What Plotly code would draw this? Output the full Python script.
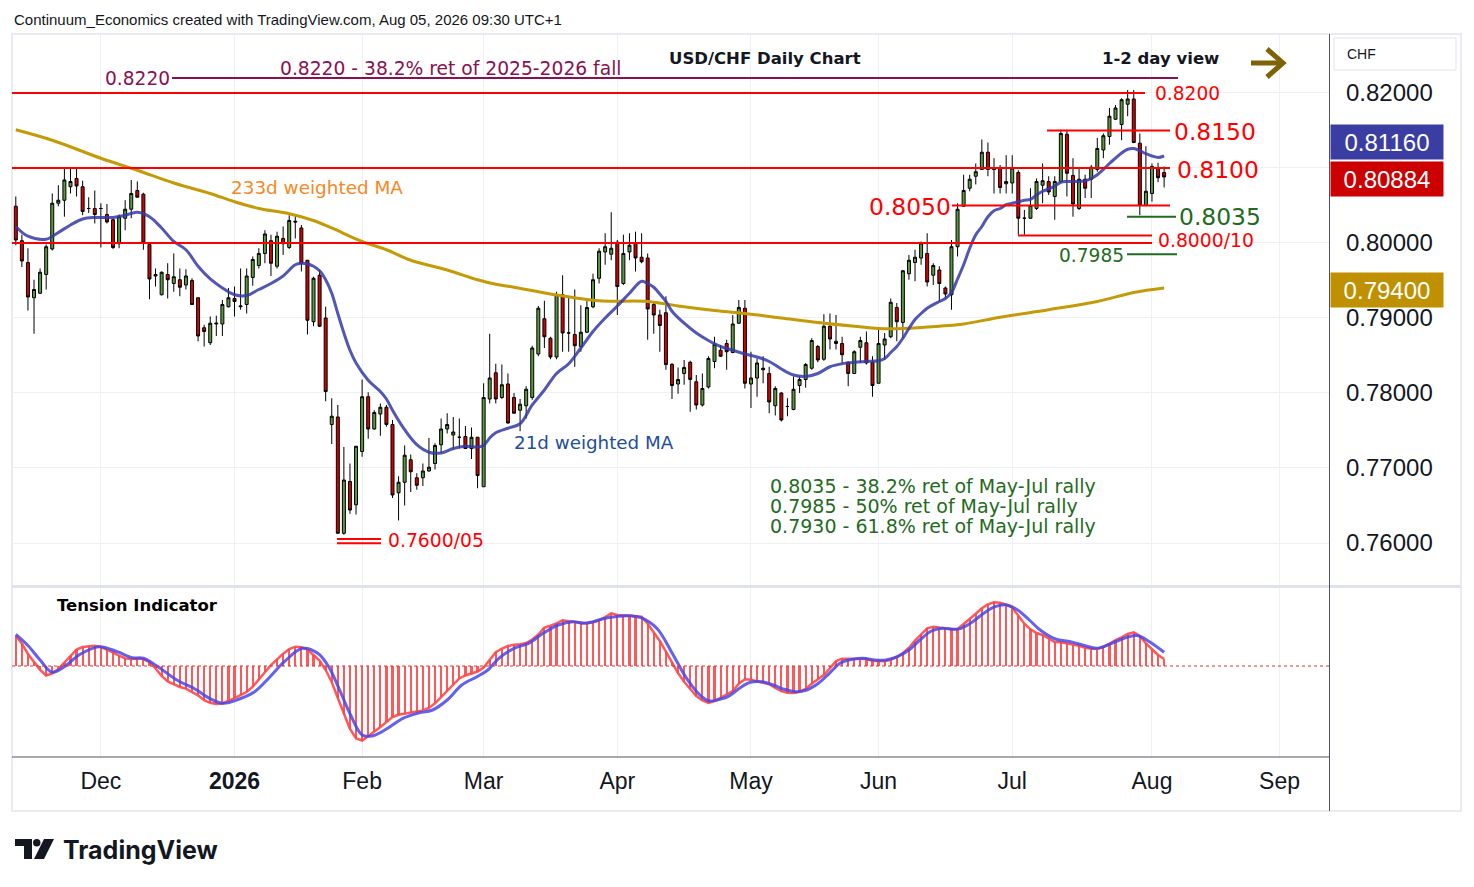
import plotly.graph_objects as go

# page is 1474x887; the browser adds an 8px body margin, so the figure is 8px smaller
PAGE_W, PAGE_H = 1474, 887
OFF = 8
W, H = PAGE_W - OFF, PAGE_H - OFF

# ---------------- data ----------------
opens = [0.8049,0.8003,0.7974,0.7927,0.7933,0.7958,0.7992,0.8053,0.8057,0.8075,
0.8086,0.8075,0.8046,0.8046,0.8046,0.8038,0.8031,0.7999,0.8033,0.8045,
0.8070,0.8065,0.7998,0.7956,0.7931,0.7958,0.7946,0.7951,0.7944,0.7950,
0.7927,0.7887,0.7867,0.7892,0.7892,0.7915,0.7926,0.7915,0.7918,0.7954,
0.7970,0.7986,0.8003,0.7969,0.8006,0.7994,0.8029,0.8020,0.7977,0.7895,
0.7957,0.7900,0.7758,0.7768,0.7613,0.7682,0.7651,0.7722,0.7795,0.7752,
0.7772,0.7781,0.7758,0.7667,0.7681,0.7711,0.7687,0.7687,0.7696,0.7706,
0.7731,0.7752,0.7744,0.7741,0.7742,0.7726,0.7741,0.7675,0.7792,0.7827,
0.7794,0.7812,0.7794,0.7777,0.7783,0.7794,0.7852,0.7899,0.7873,0.7848,
0.7931,0.7880,0.7878,0.7862,0.7881,0.7915,0.7953,0.7988,0.7985,0.8001,
0.7946,0.7988,0.8000,0.7981,0.7980,0.7918,0.7904,0.7907,0.7838,0.7812,
0.7826,0.7841,0.7815,0.7784,0.7808,0.7842,0.7857,0.7866,0.7854,0.7893,
0.7913,0.7812,0.7820,0.7833,0.7826,0.7783,0.7800,0.7782,0.7778,0.7810,
0.7818,0.7833,0.7862,0.7845,0.7889,0.7869,0.7866,0.7841,0.7826,0.7861,
0.7867,0.7841,0.7813,0.7864,0.7875,0.7914,0.7894,0.7959,0.7974,0.7980,
0.7986,0.7957,0.7964,0.7940,0.7931,0.7995,0.8049,0.8073,0.8089,0.8098,
0.8121,0.8098,0.8100,0.8079,0.8080,0.8094,0.8033,0.8033,0.8046,0.8077,
0.8082,0.8062,0.8082,0.8145,0.8090,0.8046,0.8085,0.8085,0.8098,0.8124,
0.8142,0.8165,0.8158,0.8185,0.8192,0.8133,0.8050,0.8066,0.8100,0.8094]

highs = [0.8062,0.8011,0.7993,0.7951,0.7966,0.7998,0.8066,0.8077,0.8100,0.8100,
0.8100,0.8083,0.8061,0.8070,0.8053,0.8052,0.8032,0.8038,0.8057,0.8084,
0.8082,0.8067,0.8000,0.7966,0.7962,0.7973,0.7986,0.7966,0.7965,0.7953,
0.7927,0.7891,0.7902,0.7903,0.7924,0.7940,0.7942,0.7966,0.7966,0.7982,
0.7993,0.8017,0.8011,0.8015,0.8022,0.8037,0.8037,0.8024,0.7977,0.7955,
0.7964,0.7915,0.7793,0.7784,0.7728,0.7706,0.7729,0.7818,0.7801,0.7777,
0.7786,0.7784,0.7764,0.7689,0.7730,0.7718,0.7693,0.7706,0.7740,0.7733,
0.7766,0.7773,0.7768,0.7766,0.7756,0.7754,0.7741,0.7813,0.7879,0.7839,
0.7838,0.7826,0.7800,0.7792,0.7809,0.7863,0.7916,0.7923,0.7875,0.7935,
0.7957,0.7929,0.7938,0.7917,0.7925,0.7959,0.7993,0.8013,0.8041,0.8004,
0.8011,0.8013,0.8015,0.8013,0.7986,0.7921,0.7911,0.7929,0.7840,0.7834,
0.7844,0.7843,0.7824,0.7826,0.7849,0.7875,0.7864,0.7871,0.7904,0.7924,
0.7924,0.7855,0.7846,0.7849,0.7835,0.7809,0.7801,0.7793,0.7822,0.7822,
0.7840,0.7873,0.7864,0.7905,0.7906,0.7904,0.7875,0.7842,0.7857,0.7875,
0.7882,0.7849,0.7884,0.7880,0.7926,0.7920,0.7964,0.7984,0.7991,0.8002,
0.8013,0.7973,0.7969,0.7942,0.8004,0.8053,0.8091,0.8091,0.8106,0.8138,
0.8134,0.8113,0.8104,0.8117,0.8117,0.8097,0.8044,0.8073,0.8086,0.8106,
0.8089,0.8089,0.8151,0.8151,0.8113,0.8100,0.8091,0.8104,0.8140,0.8146,
0.8180,0.8184,0.8193,0.8204,0.8204,0.8146,0.8129,0.8106,0.8107,0.8102]

lows = [0.7997,0.7968,0.7910,0.7879,0.7932,0.7938,0.7990,0.8049,0.8035,0.8066,
0.8062,0.8037,0.8040,0.8026,0.7994,0.8026,0.7992,0.7993,0.8017,0.8033,
0.8061,0.7991,0.7925,0.7942,0.7930,0.7926,0.7935,0.7929,0.7938,0.7918,
0.7869,0.7862,0.7864,0.7876,0.7876,0.7914,0.7902,0.7911,0.7906,0.7943,
0.7966,0.7973,0.7956,0.7966,0.7984,0.7992,0.8006,0.7962,0.7878,0.7889,
0.7888,0.7789,0.7732,0.7612,0.7611,0.7639,0.7638,0.7715,0.7739,0.7751,
0.7743,0.7755,0.7660,0.7630,0.7650,0.7668,0.7671,0.7676,0.7695,0.7698,
0.7720,0.7746,0.7724,0.7726,0.7726,0.7712,0.7673,0.7675,0.7786,0.7786,
0.7792,0.7759,0.7773,0.7749,0.7766,0.7791,0.7849,0.7860,0.7845,0.7845,
0.7855,0.7855,0.7835,0.7855,0.7880,0.7913,0.7946,0.7971,0.7977,0.7904,
0.7944,0.7977,0.7962,0.7973,0.7871,0.7879,0.7855,0.7831,0.7792,0.7799,
0.7811,0.7775,0.7778,0.7782,0.7806,0.7833,0.7848,0.7831,0.7853,0.7892,
0.7806,0.7780,0.7795,0.7813,0.7773,0.7770,0.7762,0.7769,0.7777,0.7800,
0.7807,0.7831,0.7841,0.7843,0.7858,0.7858,0.7840,0.7809,0.7826,0.7840,
0.7838,0.7795,0.7813,0.7844,0.7873,0.7869,0.7873,0.7951,0.7949,0.7971,
0.7942,0.7944,0.7922,0.7926,0.7911,0.7982,0.8048,0.8069,0.8078,0.8098,
0.8089,0.8066,0.8066,0.8066,0.8066,0.8011,0.8011,0.8032,0.8044,0.8053,
0.8064,0.8031,0.8080,0.8062,0.8035,0.8044,0.8060,0.8060,0.8095,0.8113,
0.8131,0.8164,0.8137,0.8169,0.8133,0.8037,0.8049,0.8055,0.8081,0.8074]

closes = [0.8004,0.7976,0.7928,0.7938,0.7961,0.7995,0.8053,0.8057,0.8084,0.8082,
0.8076,0.8042,0.8046,0.8038,0.8046,0.8028,0.7994,0.8035,0.8045,0.8066,
0.8061,0.8000,0.7952,0.7958,0.7961,0.7951,0.7955,0.7941,0.7956,0.7918,
0.7876,0.7882,0.7893,0.7893,0.7918,0.7927,0.7922,0.7916,0.7956,0.7978,
0.7986,0.8012,0.7973,0.8009,0.7999,0.8030,0.8028,0.7973,0.7897,0.7953,
0.7889,0.7802,0.7769,0.7613,0.7684,0.7644,0.7729,0.7795,0.7752,0.7774,
0.7781,0.7758,0.7664,0.7681,0.7717,0.7695,0.7677,0.7696,0.7701,0.7730,
0.7752,0.7758,0.7748,0.7741,0.7726,0.7741,0.7690,0.7794,0.7820,0.7792,
0.7811,0.7760,0.7773,0.7785,0.7805,0.7860,0.7913,0.7875,0.7848,0.7931,
0.7880,0.7880,0.7863,0.7881,0.7914,0.7951,0.7989,0.7995,0.7993,0.7942,
0.7986,0.7997,0.7980,0.7975,0.7912,0.7904,0.7890,0.7838,0.7810,0.7818,
0.7834,0.7818,0.7784,0.7806,0.7846,0.7865,0.7849,0.7855,0.7892,0.7914,
0.7813,0.7820,0.7840,0.7831,0.7788,0.7806,0.7764,0.7782,0.7805,0.7818,
0.7838,0.7870,0.7844,0.7889,0.7872,0.7866,0.7851,0.7826,0.7855,0.7870,
0.7840,0.7810,0.7866,0.7872,0.7921,0.7895,0.7963,0.7977,0.7981,0.8000,
0.7948,0.7970,0.7946,0.7932,0.7995,0.8045,0.8070,0.8085,0.8095,0.8121,
0.8098,0.8098,0.8074,0.8082,0.8100,0.8033,0.8033,0.8050,0.8082,0.8083,
0.8068,0.8082,0.8146,0.8093,0.8052,0.8085,0.8073,0.8101,0.8126,0.8143,
0.8169,0.8180,0.8191,0.8192,0.8134,0.8050,0.8069,0.8102,0.8087,0.8088]

# 21d weighted MA (bar index, value)
ma21_idx = [0,2,5,7,9,11,13,16,18,20,22,24,26,28,30,32,34,36,38,40,42,44,46,47,48,49,50,51,52,53,54,55,56,58,60,61,62,64,66,68,70,72,74,76,77,78,79,81,83,85,87,89,91,93,95,97,99,101,103,104,105,106,107,108,110,112,114,116,118,120,122,124,126,128,130,132,134,136,138,140,142,143,144,145,146,147,148,149,150,152,153,154,155,156,157,158,159,160,161,162,163,164,165,166,167,168,169,170,171,172,173,175,176,177,178,179,180,181,182,183,184,185,186,187,188,189]
ma21_val = [0.8022,0.8009,0.8005,0.8014,0.8024,0.8032,0.8034,0.8034,0.8037,0.8041,0.8035,0.8020,0.8002,0.7991,0.7969,0.7952,0.7940,0.7931,0.7930,0.7938,0.7946,0.7956,0.7971,0.7973,0.7972,0.7969,0.7963,0.7951,0.7933,0.7906,0.7880,0.7857,0.7840,0.7817,0.7802,0.7792,0.7777,0.7751,0.7731,0.7721,0.7720,0.7726,0.7729,0.7728,0.7730,0.7740,0.7747,0.7753,0.7759,0.7784,0.7804,0.7826,0.7839,0.7860,0.7882,0.7900,0.7916,0.7933,0.7949,0.7946,0.7941,0.7932,0.7922,0.7909,0.7893,0.7880,0.7870,0.7862,0.7857,0.7852,0.7848,0.7842,0.7832,0.7824,0.7822,0.7826,0.7835,0.7839,0.7841,0.7842,0.7843,0.7846,0.7854,0.7862,0.7873,0.7886,0.7898,0.7906,0.7913,0.7922,0.7926,0.7934,0.7952,0.7971,0.7993,0.8011,0.8022,0.8035,0.8043,0.8046,0.8051,0.8053,0.8055,0.8057,0.8058,0.8064,0.8069,0.8072,0.8076,0.8081,0.8082,0.8082,0.8083,0.8086,0.8091,0.8098,0.8106,0.8113,0.8120,0.8125,0.8126,0.8123,0.8119,0.8116,0.8114,0.8116]

# 233d weighted MA (bar index, value)
ma233_idx = [0,6,14,20,26,32,36,40,45,49,52,57,61,65,71,76,79,82,88,96,104,109,115,120,126,132,138,142,146,152,156,162,170,178,184,189]
ma233_val = [0.8151,0.8137,0.8113,0.8097,0.8080,0.8066,0.8055,0.8046,0.8039,0.8030,0.8020,0.8002,0.7991,0.7977,0.7964,0.7951,0.7945,0.7941,0.7932,0.7923,0.7922,0.7916,0.7910,0.7906,0.7900,0.7894,0.7889,0.7886,0.7886,0.7889,0.7892,0.7901,0.7911,0.7922,0.7934,0.7940]

# Tension indicator histogram (one value per bar)
tension_hist = [30,22.5,12,3.7,-3.8,-9.5,-7.5,-3,3.5,10.3,
16.5,19,20,20.3,19,16.6,13.7,10.4,7.6,7,
7.6,6.9,3.9,-2.4,-10,-15.4,-18.4,-21,-22.6,-25.8,
-29.4,-34.2,-36.8,-38,-37.5,-35,-32.2,-29,-26,-20.7,
-14,-6.3,0.8,6.7,12.3,16.8,19.3,18.8,16.5,11,
5.4,-4,-16,-32,-48.5,-63,-72.4,-74.5,-70.2,-65.8,
-61,-56,-51,-48.8,-47.8,-46.6,-45.5,-44.4,-42,-37.3,
-31.2,-25,-18,-12.5,-9.5,-7.6,-5.5,-1.5,6.2,13.7,
17.5,20,21.3,21.7,23,26.5,31.5,38.3,40.4,42.7,
45.8,45.2,44,43.2,43,43.8,45.7,49,52.7,51,
50.3,50.3,49.8,49.3,42.3,33.3,25,14.3,3.7,-7,
-15.7,-23,-30,-34.3,-37,-35,-31.7,-28,-25,-17.7,
-13.3,-13.7,-15.3,-16.7,-18.3,-22,-25,-26.7,-27,-25.7,
-23,-17.7,-13,-9,-2.3,5,7.3,7.3,6.7,7,
7,5.3,4.7,4.7,6.3,9,13,18.3,25.3,32,
37.7,39.3,38.3,37.3,36.7,37,41.7,47,52.3,57.7,
61.7,63.7,63.3,61.3,58.3,50.3,42.3,36.7,33,31,
27.7,24,23.7,22.7,21.3,20.3,18.3,17.3,17.3,19,
22.3,26,28.7,32,33.7,30,22.7,17,11,7]

# Tension indicator signal line (bar index, value)
signal_idx = [0,2,4,6,8,10.6,13.7,16.7,19.2,21,23.4,26.5,29.5,31.9,34.1,36.8,39.3,41.7,44.2,47.2,49.7,51.5,53.3,55.1,57,58.8,61.2,63.7,66.1,68.6,71,73.4,75.9,77.7,79.5,82,84.4,86.8,89.3,91.7,93.7,97.4,101.1,102.9,105.5,107.9,110.4,112.9,114.1,115.4,117.2,119.1,120.9,122.8,124.7,126.5,128.4,130.2,132.1,133.9,135.8,137.7,139.5,141.4,143.2,145.1,147,148.8,150.7,152.5,154.4,155.6,157.5,159.3,161.2,163.1,164.9,166.8,168.6,171.1,173.6,176,177.9,180.4,182.9,184.7,186.6,189]
signal_val = [31.7,20.5,6,-6.3,-0.7,11.7,19.3,14.3,8.3,7.7,-0.7,-14,-23,-32.3,-37.3,-33,-25.7,-11.7,4.3,17.7,12.7,-0.7,-24,-49,-69,-69.7,-62.3,-52.3,-47.3,-44,-34,-19,-10.7,-4,7.7,17.7,22.7,32.7,41,44.3,42.7,48.3,50.3,48.3,37.7,14.3,-12.3,-30.7,-35,-34,-30.7,-22.3,-16.3,-15.7,-19,-23.3,-25.7,-24,-17.3,-7.3,3.3,6.7,7.7,6,6,9.3,16,26,35,37.7,36.7,37.7,44.3,52.7,59.3,61,56,46,36,27,24.3,20.3,17.7,22.7,28.7,30.3,24.3,13.7]

month_idx = [14, 36, 57, 77, 99, 121, 142, 164, 187, 208]
month_lbl = ["Dec", "<b>2026</b>", "Feb", "Mar", "Apr", "May", "Jun", "Jul", "Aug", "Sep"]

price_ticks = [0.76, 0.77, 0.78, 0.79, 0.80, 0.81, 0.82]
# the 0.81000 label sits under the live price labels in the reference
price_tick_lbl = ["0.76000", "0.77000", "0.78000", "0.79000", "0.80000", "", "0.82000"]

last_close = 0.80884
last_ma21 = 0.81160
last_ma233 = 0.79400

bars = list(range(len(closes)))

# ---------------- helpers (page pixel -> figure paper) ----------------
def px(x):
    return (x - OFF) / W

def py(y):
    return 1 - (y - OFF) / H

RED = "#ff0000"
GREEN_T = "#1f6b22"
MAROON = "#8a1150"
FONT_A = "DejaVu Sans"
FONT_AX = "Liberation Sans"
INK = "#131722"

fig = go.Figure()

# moving averages (behind candles)
fig.add_trace(go.Scatter(x=ma233_idx, y=ma233_val, mode="lines",
                         line=dict(color="#c49a06", width=3, shape="spline"),
                         hoverinfo="skip", showlegend=False, xaxis="x", yaxis="y"))
fig.add_trace(go.Scatter(x=ma21_idx, y=ma21_val, mode="lines",
                         line=dict(color="rgba(52,56,168,0.85)", width=3, shape="spline"),
                         hoverinfo="skip", showlegend=False, xaxis="x", yaxis="y"))

fig.add_trace(go.Candlestick(
    x=bars, open=opens, high=highs, low=lows, close=closes,
    increasing=dict(fillcolor="#5a9a3e", line=dict(color="#000000", width=1)),
    decreasing=dict(fillcolor="#d30000", line=dict(color="#000000", width=1)),
    whiskerwidth=0, hoverinfo="skip", showlegend=False, xaxis="x", yaxis="y"))

# tension indicator
fig.add_trace(go.Bar(x=bars, y=tension_hist, width=0.36,
                     marker=dict(color="rgba(255,70,70,0.9)", line=dict(width=0)),
                     hoverinfo="skip", showlegend=False, xaxis="x2", yaxis="y2"))
fig.add_trace(go.Scatter(x=bars, y=tension_hist, mode="lines",
                         line=dict(color="rgba(255,70,70,0.9)", width=2.5),
                         hoverinfo="skip", showlegend=False, xaxis="x2", yaxis="y2"))
fig.add_trace(go.Scatter(x=signal_idx, y=signal_val, mode="lines",
                         line=dict(color="rgba(70,70,235,0.85)", width=3, shape="spline"),
                         hoverinfo="skip", showlegend=False, xaxis="x2", yaxis="y2"))

x_lo, x_hi = -0.625, 216.3
grid = "#edf0f5"

fig.update_layout(
    width=W, height=H, margin=dict(l=0, r=0, t=0, b=0),
    paper_bgcolor="white", plot_bgcolor="white", showlegend=False,
    bargap=0,
    xaxis=dict(domain=[px(12), px(1330)], range=[x_lo, x_hi], anchor="y",
               tickvals=month_idx, showticklabels=False, showgrid=True, gridcolor=grid,
               zeroline=False, showline=False, ticks="", rangeslider=dict(visible=False)),
    yaxis=dict(domain=[py(585), py(35)], range=[0.7544, 0.82773], side="right", anchor="x",
               tickvals=price_ticks, ticktext=price_tick_lbl, showgrid=True, gridcolor=grid,
               zeroline=False, showline=False, ticks="", ticklabelstandoff=15,
               tickfont=dict(family=FONT_AX, size=24, color=INK)),
    xaxis2=dict(domain=[px(12), px(1330)], range=[x_lo, x_hi], anchor="y2", matches="x",
                tickvals=month_idx, ticktext=month_lbl, showgrid=True, gridcolor=grid,
                zeroline=False, showline=False, ticks="", ticklabelstandoff=8,
                tickfont=dict(family=FONT_AX, size=23, color=INK)),
    yaxis2=dict(domain=[py(757), py(588)], range=[-91, 78], anchor="x2",
                showticklabels=False, showgrid=False, zeroline=False, showline=False),
)

shapes = []
# frame and separators
shapes.append(dict(type="rect", xref="paper", yref="paper", x0=px(12), x1=px(1461), y0=py(811), y1=py(34),
                   line=dict(color="#e9ebf0", width=2), layer="below"))
shapes.append(dict(type="line", xref="paper", yref="paper", x0=px(12), x1=px(1461), y0=py(586.5), y1=py(586.5),
                   line=dict(color="#e0e3eb", width=3)))
shapes.append(dict(type="line", xref="paper", yref="paper", x0=px(12), x1=px(1330), y0=py(757), y1=py(757),
                   line=dict(color="#50535e", width=1)))
shapes.append(dict(type="line", xref="paper", yref="paper", x0=px(1329.5), x1=px(1329.5), y0=py(811), y1=py(34),
                   line=dict(color="#50535e", width=1)))
# zero line of the indicator
shapes.append(dict(type="line", xref="paper", yref="y2", x0=px(12), x1=px(1330), y0=0, y1=0,
                   line=dict(color="#e03030", width=1, dash="dot")))

# level lines (price levels)
def level(y, xa, xb, color, width=2):
    shapes.append(dict(type="line", xref="paper", yref="y", x0=px(xa), x1=px(xb), y0=y, y1=y,
                       line=dict(color=color, width=width)))

level(0.8220, 172, 1178, MAROON)
level(0.8200, 12, 1145, RED)
level(0.8150, 1047, 1170, RED)
level(0.8100, 12, 1170, RED)
level(0.8050, 952, 1170, RED)
level(0.8035, 1127, 1176, GREEN_T)
level(0.8010, 1018, 1152, RED)
level(0.8000, 12, 1152, RED)
level(0.7985, 1127, 1177, GREEN_T)
level(0.76053, 337, 381, RED)
level(0.75996, 337, 381, RED)

# arrow (1-2 day view)
ac = "#7f6206"
shapes.append(dict(type="line", xref="paper", yref="paper", x0=px(1251), x1=px(1282), y0=py(63), y1=py(63),
                   line=dict(color=ac, width=5)))
shapes.append(dict(type="path", xref="paper", yref="paper",
                   path=f"M {px(1267)} {py(49)} L {px(1283)} {py(63)} L {px(1267)} {py(77)}",
                   line=dict(color=ac, width=5)))
# CHF box
shapes.append(dict(type="rect", xref="paper", yref="paper", x0=px(1334), x1=px(1456), y0=py(70), y1=py(38),
                   line=dict(color="#e0e3eb", width=1)))
# TradingView logo mark
shapes.append(dict(type="path", xref="paper", yref="paper", fillcolor=INK, line=dict(width=0),
                   path=f"M {px(15)} {py(839)} L {px(32)} {py(839)} L {px(32)} {py(859)} L {px(24)} {py(859)} "
                        f"L {px(24)} {py(846)} L {px(15)} {py(846)} Z"))
shapes.append(dict(type="circle", xref="paper", yref="paper", fillcolor=INK, line=dict(width=0),
                   x0=px(33), x1=px(40.5), y0=py(846.5), y1=py(839)))
shapes.append(dict(type="path", xref="paper", yref="paper", fillcolor=INK, line=dict(width=0),
                   path=f"M {px(44)} {py(839)} L {px(54)} {py(839)} L {px(44)} {py(859)} L {px(34)} {py(859)} Z"))

fig.update_layout(shapes=shapes)

ann = []
def text(t, x, y, size, color, xanchor="left", family=FONT_A):
    ann.append(dict(text=t, x=px(x), y=py(y), xref="paper", yref="paper", xanchor=xanchor,
                    yanchor="middle", showarrow=False,
                    font=dict(family=family, size=size, color=color)))

text("Continuum_Economics created with TradingView.com, Aug 05, 2026 09:30 UTC+1", 12, 19, 15, INK, family=FONT_AX)
text("<b>USD/CHF Daily Chart</b>", 765, 59, 16.5, INK, xanchor="center")
text("<b>1-2 day view</b>", 1160, 59, 16.5, INK, xanchor="center")
text("0.8220", 103, 78, 18.6, MAROON)
text("0.8220 - 38.2% ret of 2025-2026 fall", 278, 68, 18.7, MAROON)
text("0.8200", 1153, 94, 18.6, RED)
text("0.8150", 1172, 132, 23.4, RED)
text("0.8100", 1175, 170, 23.4, RED)
text("0.8050", 953, 207, 23.4, RED, xanchor="right")
text("0.8035", 1177, 217, 23.4, GREEN_T)
text("0.8000/10", 1156, 240, 18.8, RED)
text("0.7985", 1126, 255, 18.6, GREEN_T, xanchor="right")
text("233d weighted MA", 229, 187, 18.4, "#f5891f")
text("21d weighted MA", 512, 442, 18.3, "#1e4e9d")
text("0.7600/05", 386, 540, 18.8, RED)
text("0.8035 - 38.2% ret of May-Jul rally", 768, 486, 19, GREEN_T)
text("0.7985 - 50% ret of May-Jul rally", 768, 506, 19, GREEN_T)
text("0.7930 - 61.8% ret of May-Jul rally", 768, 526, 19, GREEN_T)
text("<b>Tension Indicator</b>", 55, 605, 16.5, "#000000")
text("CHF", 1345, 54, 14, INK, family=FONT_AX)
text("<b>TradingView</b>", 61, 850, 25, INK, family="Inter")

# price labels on the axis
def axis_label(val, yc, bg):
    ann.append(dict(text=f"{val:.5f}", x=px(1330), y=py(yc), xref="paper", yref="paper",
                    xanchor="left", yanchor="middle", showarrow=False, bgcolor=bg,
                    width=112, height=34, align="center", borderpad=0,
                    font=dict(family=FONT_AX, size=24, color="white")))

axis_label(last_ma21, 142.5, "#3a3ea2")
axis_label(last_close, 178.5, "#cc0000")
axis_label(last_ma233, 289.5, "#bf9000")

fig.update_layout(annotations=ann)

fig.write_html("out.html")
